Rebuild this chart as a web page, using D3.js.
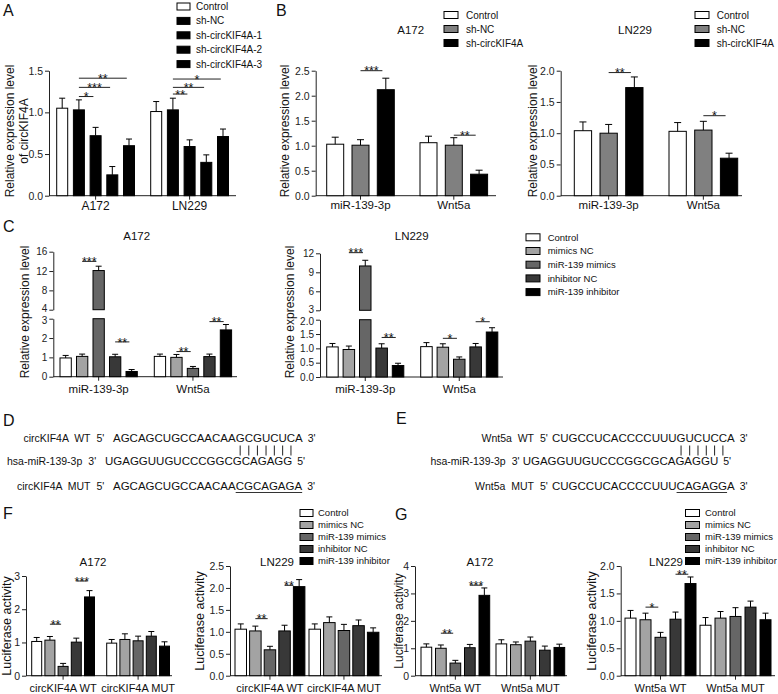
<!DOCTYPE html>
<html><head><meta charset="utf-8">
<script src="https://cdn.jsdelivr.net/npm/d3@7"></script>
<style>body{margin:0;background:#fff}svg{display:block}text{font-family:"Liberation Sans",Arial,sans-serif;fill:#111}</style>
</head><body><script>
// ================= DATA =================
// Panel A
const aGroups=["A172","LN229"];
const aSeries=["Control","sh-NC","sh-circKIF4A-1","sh-circKIF4A-2","sh-circKIF4A-3"];
const aMeans=[[1.05,1.03,0.72,0.25,0.60],[1.01,1.03,0.59,0.40,0.71]];
const aSD=[[0.12,0.12,0.10,0.10,0.08],[0.12,0.14,0.08,0.09,0.09]];
const aSig=[[0,1,2,1.19,"*"],[0,1,3,1.30,"***"],[0,1,4,1.41,"**"],[1,1,2,1.22,"**"],[1,1,3,1.30,"**"],[1,1,4,1.40,"*"]];
const aTicks=[0,0.5,1.0,1.5];
// Panel B
const bGroups=["miR-139-3p","Wnt5a"];
const bSeries=["Control","sh-NC","sh-circKIF4A"];
const bA172Means=[[1.03,1.01,2.12],[1.06,1.01,0.43]];
const bA172SD=[[0.14,0.11,0.23],[0.13,0.15,0.08]];
const bA172Sig=[[0,1,2,2.5,"***"],[1,1,2,1.21,"**"]];
const bA172Ticks=[0,0.5,1.0,1.5,2.0,2.5];
const bLN229Means=[[1.04,1.00,1.73],[1.03,1.05,0.60]];
const bLN229SD=[[0.14,0.14,0.17],[0.14,0.14,0.08]];
const bLN229Sig=[[0,1,2,1.97,"**"],[1,1,2,1.28,"*"]];
const bLN229Ticks=[0,0.5,1.0,1.5,2.0];
// Panel C
const cGroups=["miR-139-3p","Wnt5a"];
const cSeries=["Control","mimics NC","miR-139 mimics","inhibitor NC","miR-139 inhibitor"];
const cA172Means=[[0.97,1.05,12.1,1.03,0.27],[1.05,1.00,0.43,1.04,2.42]];
const cA172SD=[[0.13,0.12,0.9,0.13,0.10],[0.12,0.15,0.10,0.13,0.28]];
const cA172Sig=[[0,1,2,14,"***"],[0,3,4,1.8,"**"],[1,1,2,1.3,"**"],[1,3,4,2.85,"**"]];
const cA172LowTicks=[0,1,2,3], cA172HighTicks=[4,8,12,16];
const cLN229Means=[[1.05,0.96,10.0,1.01,0.40],[1.06,1.04,0.62,1.05,1.57]];
const cLN229SD=[[0.12,0.12,0.9,0.15,0.08],[0.14,0.12,0.08,0.12,0.15]];
const cLN229Sig=[[0,1,2,12.1,"***"],[0,3,4,1.38,"**"],[1,1,2,1.35,"*"],[1,3,4,1.93,"*"]];
const cLN229LowTicks=[0,0.5,1.0,1.5,2.0], cLN229HighTicks=[3,6,9,12];
// Panel D / E sequences
const dWT="AGCAGCUGCCAACAAGCGUCUCA", dMiR="UGAGGUUGUCCCGGCGCAGAGG", dMUT="AGCAGCUGCCAACAACGCAGAGA";
const eWT="CUGCCUCACCCCUUUGUCUCCA", eMiR="UGAGGUUGUCCCGGCGCAGAGGU", eMUT="CUGCCUCACCCCUUUCAGAGGA";
const dPairs=[15,16,17,18,19,20,21], ePairs=[15,16,17,18,19,20];
const dMutSpan=[15,22], eMutSpan=[15,20];
// Panel F
const fGroups=["circKIF4A WT","circKIF4A MUT"];
const fA172Means=[[1.03,1.07,0.28,1.01,2.37],[0.98,1.09,1.05,1.19,0.89]];
const fA172SD=[[0.12,0.11,0.09,0.12,0.19],[0.11,0.17,0.14,0.14,0.13]];
const fA172Sig=[[0,1,2,1.55,"**"],[0,3,4,2.85,"***"]];
const fA172Ticks=[0,1,2,3];
const fLN229Means=[[1.06,1.02,0.59,1.02,2.03],[1.06,1.21,1.03,1.14,0.99]];
const fLN229SD=[[0.12,0.11,0.08,0.13,0.16],[0.12,0.13,0.14,0.13,0.10]];
const fLN229Sig=[[0,1,2,1.3,"**"],[0,3,4,2.06,"**",0]];
const fLN229Ticks=[0,0.5,1.0,1.5,2.0,2.5];
// Panel G
const gGroups=["Wnt5a WT","Wnt5a MUT"];
const gA172Means=[[1.04,1.00,0.46,1.02,2.93],[1.16,1.13,1.26,0.93,1.03]];
const gA172SD=[[0.12,0.12,0.10,0.12,0.27],[0.15,0.10,0.15,0.15,0.12]];
const gA172Sig=[[0,1,2,1.55,"**"],[0,3,4,3.3,"***"]];
const gA172Ticks=[0,1,2,3,4];
const gLN229Means=[[1.05,1.02,0.70,1.03,1.68],[0.92,1.05,1.08,1.25,1.02]];
const gLN229SD=[[0.14,0.12,0.09,0.13,0.12],[0.14,0.12,0.16,0.11,0.12]];
const gLN229Sig=[[0,1,2,1.25,"*"],[0,3,4,1.85,"**"]];
const gLN229Ticks=[0,0.5,1.0,1.5,2.0];

// ================= STYLE =================
const aFills=["#ffffff","#000000","#000000","#000000","#000000"];
const bFills=["#ffffff","#808080","#000000"];
const cFills=["#ffffff","#a3a3a3","#666666","#383838","#000000"];

const svg=d3.select("body").append("svg").attr("width",778).attr("height",694);
const f1=d3.format(".1f"), f0=d3.format("d");

function chart(c){
  const g=svg.append("g");
  const n=c.groups.length, m=c.series.length;
  const span=(m-1)*c.barStep+c.barW;
  const barEnd=c.barStart+(n-1)*c.groupStep+span;
  const x0=d3.scaleBand().domain(c.groups).range([c.barStart,barEnd]).paddingInner(1-span/c.groupStep).paddingOuter(0);
  const x1=d3.scaleBand().domain(c.series).range([0,x0.bandwidth()]).paddingInner(1-c.barW/c.barStep).paddingOuter(0);
  const segs=c.segments.map(s=>Object.assign({},s,{y:d3.scaleLinear().domain(s.domain).range(s.range)}));
  const yOf=v=>{for(let i=0;i<segs.length;i++){if(v<=segs[i].domain[1]||i===segs.length-1)return segs[i].y(v);}};
  // y axes
  segs.forEach((s,si)=>{
    const ax=g.append("g").attr("transform",`translate(${c.axisX},0)`)
      .call(d3.axisLeft(s.y).tickValues(s.ticks).tickFormat(s.fmt).tickSize(4).tickPadding(2).tickSizeOuter(0));
    ax.selectAll("text").attr("font-size",c.tickFont||10.5).attr("font-family",null).style("fill","#222");
    ax.selectAll("line,path").attr("stroke","#222");
    if(segs.length>1){
      ax.selectAll(".tick text").filter(d=>si===0?d===s.domain[1]:d===s.domain[0])
        .attr("transform",`translate(0,${si===0?1.2:-1.2})`);
    }
  });
  // x axis
  const base=segs[0].y(segs[0].domain[0]);
  const xa=g.append("g").attr("transform",`translate(0,${base})`)
    .call(d3.axisBottom(x0).tickSize(4).tickPadding(c.catPad).tickSizeOuter(0));
  xa.select(".domain").attr("d",`M${c.axisX},0H${c.axisEnd}`).attr("stroke","#222");
  xa.selectAll("line").attr("stroke","#222");
  xa.selectAll("text").attr("font-size",c.catFont).attr("font-family",null).style("fill","#111");
  // bars
  c.groups.forEach((gr,gi)=>{
    c.series.forEach((se,si)=>{
      const v=c.means[gi][si], sd=c.sd[gi][si];
      const bx=x0(gr)+x1(se);
      segs.forEach(s=>{
        const lo=s.domain[0], hi=s.domain[1];
        if(v>lo){
          const top=Math.min(v,hi);
          g.append("rect").attr("x",bx).attr("y",s.y(top)).attr("width",x1.bandwidth())
            .attr("height",s.y(lo)-s.y(top)).attr("fill",c.fills[si]).attr("stroke","#000").attr("stroke-width",1);
        }
      });
      const cx=bx+x1.bandwidth()/2;
      g.append("line").attr("x1",cx).attr("x2",cx).attr("y1",yOf(v)).attr("y2",yOf(v+sd)).attr("stroke","#000");
      g.append("line").attr("x1",cx-c.capW/2).attr("x2",cx+c.capW/2).attr("y1",yOf(v+sd)).attr("y2",yOf(v+sd)).attr("stroke","#000");
    });
  });
  // significance
  c.sig.forEach(([gi,a,b,yv,lab,fr])=>{
    const gr=c.groups[gi];
    const endFr=(fr===undefined)?0.3:fr;
    const xa1=x0(gr)+x1(c.series[a])+x1.bandwidth()/2;
    const xb=x0(gr)+x1(c.series[b])+x1.bandwidth()*endFr;
    const yy=yOf(yv);
    g.append("line").attr("x1",xa1).attr("x2",xb).attr("y1",yy).attr("y2",yy).attr("stroke","#222");
    g.append("text").attr("x",(xa1+xb)/2).attr("y",yy+4.6).attr("text-anchor","middle").attr("font-size",12.5).text(lab);
  });
  // title
  if(c.title){
    g.append("text").attr("x",c.titleX).attr("y",c.titleY).attr("text-anchor",c.titleAnchor||"middle")
      .attr("font-size",11.5).text(c.title);
  }
  // y label
  c.ylab.forEach((t,i)=>{
    g.append("text").attr("transform",`translate(${c.ylabX[i]},${c.ylabY}) rotate(-90)`).attr("dy","0.35em")
      .attr("text-anchor","middle").attr("font-size",c.ylabFont||12).text(t);
  });
}

function legend(x,y,dy,names,fills,bw,bh,tx,fs){
  const g=svg.append("g");
  names.forEach((nm,i)=>{
    g.append("rect").attr("x",x).attr("y",y+i*dy-bh/2).attr("width",bw).attr("height",bh)
      .attr("fill",fills[i]).attr("stroke","#000").attr("stroke-width",1);
    g.append("text").attr("x",tx).attr("y",y+i*dy).attr("dy","0.35em").attr("font-size",fs).text(nm);
  });
}

function letter(t,x,y){svg.append("text").attr("x",x).attr("y",y).attr("font-size",16).text(t);}

// ---- Panel A ----
letter("A",3,16);
chart({groups:aGroups,series:aSeries,means:aMeans,sd:aSD,fills:aFills,sig:aSig,
  axisX:49,axisEnd:236,barStart:56.7,groupStep:94,barW:11,barStep:16.7,capW:6,
  segments:[{domain:[0,1.5],range:[195.7,70.7],ticks:aTicks,fmt:f1}],
  catPad:1.5,catFont:12,ylab:["Relative expression level","of circKIF4A"],ylabX:[10,23.5],ylabY:131});
legend(177,6.5,14.4,aSeries,aFills,13,7,196,10);

// ---- Panel B ----
letter("B",276,16);
chart({groups:bGroups,series:bSeries,means:bA172Means,sd:bA172SD,fills:bFills,sig:bA172Sig,
  axisX:315.7,axisEnd:496,barStart:326.7,groupStep:93.3,barW:17,barStep:25.3,capW:7,
  segments:[{domain:[0,2.5],range:[195.7,70.7],ticks:bA172Ticks,fmt:f1}],
  catPad:1.5,catFont:11.5,title:"A172",titleX:410.7,titleY:33.5,
  ylab:["Relative expression level"],ylabX:[285],ylabY:131});
legend(444,15,14,bSeries,bFills,14,7,466,10);
chart({groups:bGroups,series:bSeries,means:bLN229Means,sd:bLN229SD,fills:bFills,sig:bLN229Sig,
  axisX:560.7,axisEnd:742,barStart:574.3,groupStep:94.7,barW:17.3,barStep:25.7,capW:7,
  segments:[{domain:[0,2],range:[195.7,70.7],ticks:bLN229Ticks,fmt:f1}],
  catPad:1.5,catFont:11.5,title:"LN229",titleX:635,titleY:34,
  ylab:["Relative expression level"],ylabX:[533],ylabY:131});
legend(695,15,14,bSeries,bFills,14,7,716.7,10);

// ---- Panel C ----
letter("C",3,232);
chart({groups:cGroups,series:cSeries,means:cA172Means,sd:cA172SD,fills:cFills,sig:cA172Sig,
  axisX:53.3,axisEnd:237,barStart:60,groupStep:94.3,barW:11.3,barStep:16.5,capW:6,tickFont:10,
  segments:[{domain:[0,3],range:[376.7,318.7],ticks:cA172LowTicks,fmt:f0},
            {domain:[4,16],range:[309.7,251.7],ticks:cA172HighTicks,fmt:f0}],
  catPad:4,catFont:11.5,title:"A172",titleX:136.7,titleY:240,
  ylab:["Relative expression level"],ylabX:[25],ylabY:312});
chart({groups:cGroups,series:cSeries,means:cLN229Means,sd:cLN229SD,fills:cFills,sig:cLN229Sig,
  axisX:320,axisEnd:503,barStart:326.7,groupStep:94,barW:11.5,barStep:16.4,capW:6,tickFont:10,
  segments:[{domain:[0,2],range:[377,319.7],ticks:cLN229LowTicks,fmt:f1},
            {domain:[3,12],range:[310.3,253.3],ticks:cLN229HighTicks,fmt:f0}],
  catPad:4,catFont:11.5,title:"LN229",titleX:411.7,titleY:240,
  ylab:["Relative expression level"],ylabX:[290],ylabY:312});
legend(526,237.3,13.7,cSeries,cFills,14,7,547.7,9.5);

// ---- Panels D / E ----
letter("D",3,426);
letter("E",396,424);
function seqRow(label,p1,p1x,seq,sx,p2,y){
  svg.append("text").attr("x",p1x-6).attr("y",y).attr("text-anchor","end").attr("font-size",10.5).style("white-space","pre").text(label);
  svg.append("text").attr("x",p1x).attr("y",y).attr("font-size",10.5).text(p1);
  const t=svg.append("text").attr("x",sx).attr("y",y).attr("font-size",11.5).text(seq);
  const end=sx+t.node().getComputedTextLength();
  svg.append("text").attr("x",end+5).attr("y",y).attr("font-size",10.5).text(p2);
  return t;
}
function charCenter(t,i){const n=t.node();const s=n.getStartPositionOfChar(i).x,e=n.getEndPositionOfChar(i).x;return (s+e)/2;}
function charEdge(t,i,end){const n=t.node();return end?n.getEndPositionOfChar(i).x:n.getStartPositionOfChar(i).x;}

const dT1=seqRow("circKIF4A  WT","5'",96.5,dWT,113,"3'",442);
seqRow("hsa-miR-139-3p","3'",88.3,dMiR,105,"5'",465);
const dT3=seqRow("circKIF4A  MUT","5'",96.5,dMUT,113,"3'",490);
dPairs.forEach(i=>{const cx=charCenter(dT1,i);svg.append("line").attr("x1",cx).attr("x2",cx).attr("y1",445.5).attr("y2",455.5).attr("stroke","#222");});
svg.append("line").attr("x1",charEdge(dT3,dMutSpan[0],false)).attr("x2",charEdge(dT3,dMutSpan[1],true)).attr("y1",492.5).attr("y2",492.5).attr("stroke","#333");

const eT1=seqRow("Wnt5a  WT","5'",540,eWT,552,"3'",442);
seqRow("hsa-miR-139-3p","3'",511.7,eMiR,522.7,"5'",465);
const eT3=seqRow("Wnt5a  MUT","5'",540,eMUT,552,"3'",490);
ePairs.forEach(i=>{const cx=charCenter(eT1,i);svg.append("line").attr("x1",cx).attr("x2",cx).attr("y1",445.5).attr("y2",455.5).attr("stroke","#222");});
svg.append("line").attr("x1",charEdge(eT3,eMutSpan[0],false)).attr("x2",charEdge(eT3,eMutSpan[1],true)).attr("y1",492.5).attr("y2",492.5).attr("stroke","#333");

// ---- Panel F ----
letter("F",3,519);
chart({groups:fGroups,series:cSeries,means:fA172Means,sd:fA172SD,fills:cFills,sig:fA172Sig,
  axisX:26,axisEnd:172,barStart:31.7,groupStep:75,barW:10,barStep:13.2,capW:6,
  segments:[{domain:[0,3],range:[675.7,576],ticks:fA172Ticks,fmt:f0}],
  catPad:4.5,catFont:11,title:"A172",titleX:93,titleY:566,
  ylab:["Luciferase activity"],ylabX:[7],ylabY:626,ylabFont:12.5});
chart({groups:fGroups,series:cSeries,means:fLN229Means,sd:fLN229SD,fills:cFills,sig:fLN229Sig,
  axisX:230,axisEnd:382,barStart:235,groupStep:74,barW:11.5,barStep:14.6,capW:6,
  segments:[{domain:[0,2.5],range:[675.7,566],ticks:fLN229Ticks,fmt:f1}],
  catPad:4.5,catFont:11,title:"LN229",titleX:294,titleY:566,titleAnchor:"end",
  ylab:["Luciferase activity"],ylabX:[200],ylabY:621,ylabFont:12.5});
legend(300,513,12,cSeries,cFills,13,7,318,9.5);

// ---- Panel G ----
letter("G",395,520);
chart({groups:gGroups,series:cSeries,means:gA172Means,sd:gA172SD,fills:cFills,sig:gA172Sig,
  axisX:415,axisEnd:567,barStart:421,groupStep:75,barW:10.7,barStep:14.5,capW:6,
  segments:[{domain:[0,4],range:[675.7,566],ticks:gA172Ticks,fmt:f0}],
  catPad:4.5,catFont:11,title:"A172",titleX:480,titleY:566,
  ylab:["Luciferase activity"],ylabX:[398.5],ylabY:621,ylabFont:12});
chart({groups:gGroups,series:cSeries,means:gLN229Means,sd:gLN229SD,fills:cFills,sig:gLN229Sig,
  axisX:620.7,axisEnd:775,barStart:625,groupStep:75,barW:11,barStep:15,capW:6,
  segments:[{domain:[0,2],range:[675.7,566],ticks:gLN229Ticks,fmt:f1}],
  catPad:4.5,catFont:11,title:"LN229",titleX:683,titleY:566,titleAnchor:"end",
  ylab:["Luciferase activity"],ylabX:[592],ylabY:621,ylabFont:12.5});
legend(685.5,513,12,cSeries,cFills,14,7,705,9.5);
</script></body></html>
